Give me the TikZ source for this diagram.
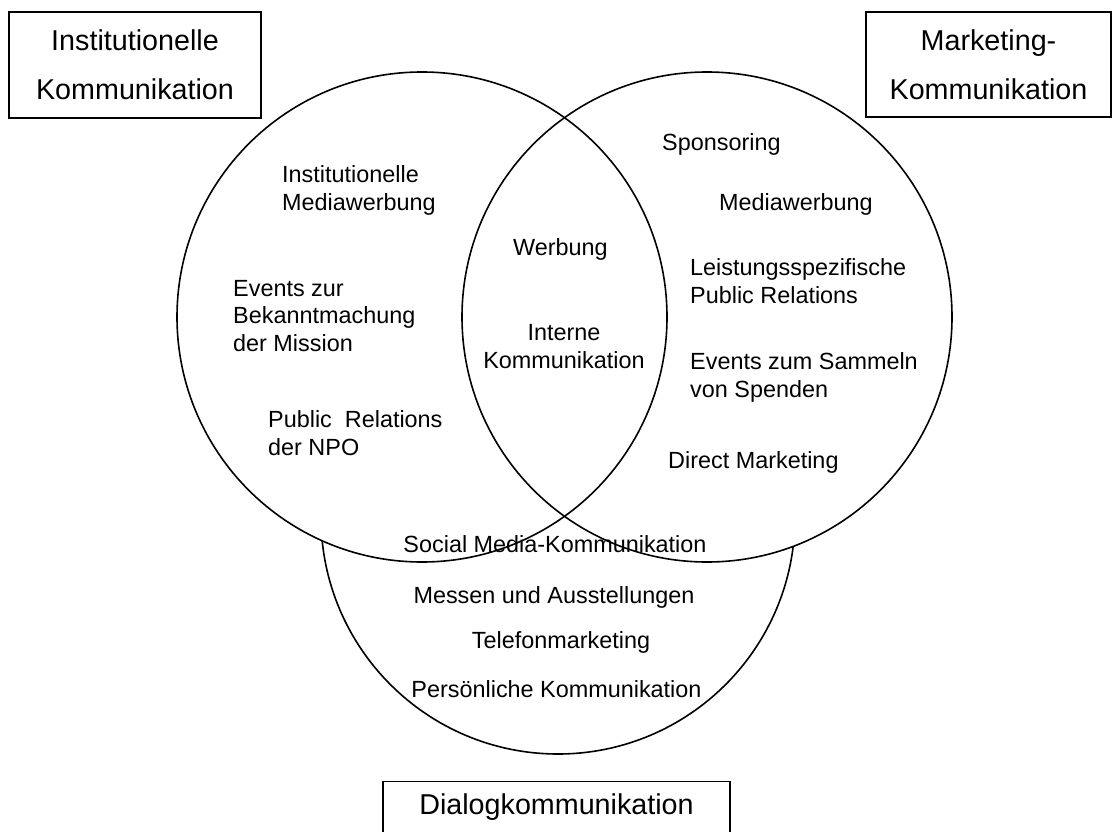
\documentclass[tikz,border=0pt]{standalone}
\usepackage{fontspec}
\setmainfont{Liberation Sans}
\begin{document}
\begin{tikzpicture}[x=1pt,y=1pt,
  ring/.style={line width=1.6pt},
  catbox/.style={draw, line width=1.2pt, inner sep=0pt, align=center,
    font=\fontsize{28.7}{49}\selectfont},
  item/.style={inner sep=0pt, anchor=base west, align=left,
    font=\fontsize{23.4}{27.5}\selectfont},
  citem/.style={inner sep=0pt, anchor=base, align=center,
    font=\fontsize{23.4}{27.5}\selectfont}]
\clip (0,0) rectangle (1113,-832);

% circles: the dialogue circle lies underneath the two upper ones
\coordinate (cL) at (422,-317);
\coordinate (cR) at (707,-317);
\coordinate (cD) at (558,-517);
\draw[ring] (cD) circle (237);
\fill[white] (cL) circle (245) (cR) circle (245);
\draw[ring] (cL) circle (245);
\draw[ring] (cR) circle (245);

% category boxes
\node[catbox, minimum width=252, minimum height=106] (inst) at (135,-65)
  {Institutionelle\\Kommunikation};
\node[catbox, minimum width=245, minimum height=105] (mark) at (988.5,-64.5)
  {Marketing-\\Kommunikation};
\node[catbox, anchor=north, minimum width=347, text height=21, text depth=30,
  inner ysep=12] (dial) at (556.5,-781) {Dialogkommunikation};

% institutional communication (anchors sit on the last line's baseline)
\node[item] (t1) at (282,-210) {Institutionelle\\Mediawerbung};
\node[item] (t2) at (233,-351) {Events zur\\Bekanntmachung\\der Mission};
\node[item] (t3) at (268,-455) {Public\ \ Relations\\der NPO};

% overlap
\node[item] (o1) at (513,-255) {Werbung};
\node[citem] (o2) at (564,-368) {Interne\\Kommunikation};

% marketing communication
\node[item] (m1) at (662,-150) {Sponsoring};
\node[item] (m2) at (719,-210) {Mediawerbung};
\node[item] (m3) at (690,-303) {Leistungsspezifische\\Public Relations};
\node[item] (m4) at (690,-397) {Events zum Sammeln\\von Spenden};
\node[item] (m5) at (668,-468) {Direct Marketing};

% dialogue communication
\node[citem] (d1) at (555,-552) {Social Media-Kommunikation};
\node[citem] (d2) at (554,-603) {Messen und Ausstellungen};
\node[citem] (d3) at (561,-648) {Telefonmarketing};
\node[citem] (d4) at (556.5,-697) {Persönliche Kommunikation};
\end{tikzpicture}
\end{document}
